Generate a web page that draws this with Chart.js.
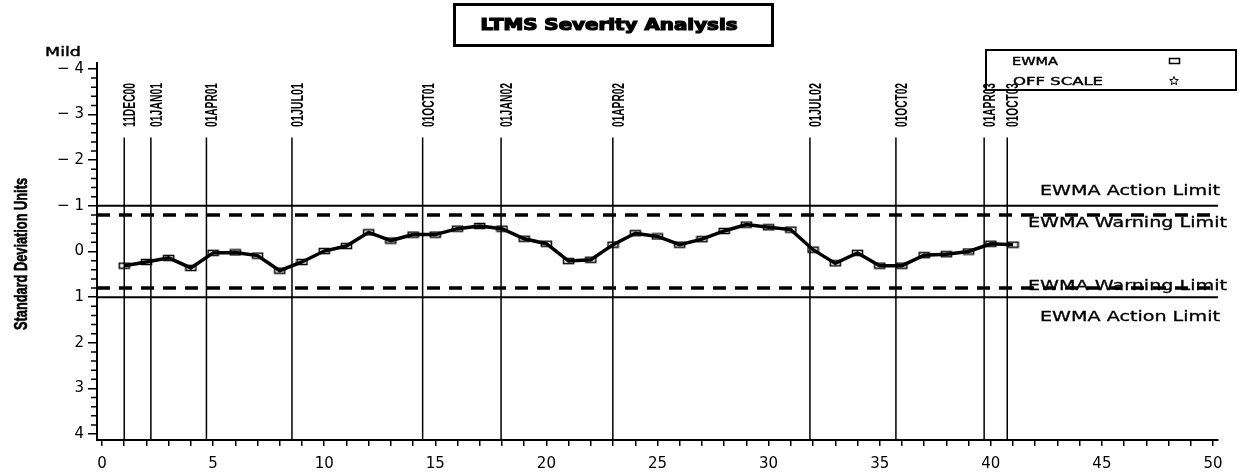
<!DOCTYPE html>
<html>
<head>
<meta charset="utf-8">
<title>LTMS Severity Analysis</title>
<script src="https://cdn.jsdelivr.net/npm/chart.js@4/dist/chart.umd.min.js"></script>
<style>
  body { margin: 0; background: #fff; }
  #wrap { width: 1239px; height: 475px; position: relative; }
</style>
</head>
<body>
<div id="wrap"><canvas id="chart"></canvas></div>
<script>
// run number on the x axis, EWMA in standard deviation units
const runs = [1, 2, 3, 4, 5, 6, 7, 8, 9, 10, 11, 12, 13, 14, 15, 16, 17, 18, 19, 20,
  21, 22, 23, 24, 25, 26, 27, 28, 29, 30, 31, 32, 33, 34, 35, 36, 37, 38, 39, 40, 41];
const ewma = [0.31, 0.23, 0.14, 0.36, 0.03, 0.02, 0.09, 0.42, 0.23, -0.01,
  -0.12, -0.42, -0.24, -0.37, -0.37, -0.50, -0.56, -0.50, -0.28, -0.17,
  0.21, 0.18, -0.15, -0.40, -0.33, -0.15, -0.27, -0.45, -0.59, -0.53,
  -0.48, -0.04, 0.26, 0.03, 0.31, 0.31, 0.08, 0.06, 0.00, -0.17, -0.15];

// calendar markers
const eventDates = ["11DEC00", "01JAN01", "01APR01", "01JUL01", "01OCT01", "01JAN02",
  "01APR02", "01JUL02", "01OCT02", "01APR03", "01OCT03"];
const eventRuns = [1.0, 2.2, 4.7, 8.55, 14.43, 17.96, 22.99, 31.86, 35.73, 39.7, 40.74];
const eventTop = -2.5;

// limits
const actionLimit = 1.0;
const warningLimit = 0.8;

const yTicks = [-4, -3, -2, -1, 0, 1, 2, 3, 4];
const xLabelStep = 5;
const xMin = -0.225, xMax = 50.225;
const yMin = -4.13, yMax = 4.13;

const FONT = "'DejaVu Sans', sans-serif";
Chart.defaults.font.family = FONT;
Chart.defaults.color = "#000";

function hline(y) {
  return [{ x: xMin, y: y }, { x: xMax, y: y }];
}

const eventLineData = [];
eventRuns.forEach((r) => {
  eventLineData.push({ x: r, y: eventTop }, { x: r, y: yMax }, { x: r, y: null });
});

// hollow box marker
const box = document.createElement("canvas");
box.width = 13;
box.height = 8;
const bctx = box.getContext("2d");
bctx.strokeStyle = "#000";
bctx.lineWidth = 1.5;
bctx.strokeRect(1.5, 1.5, 10, 5);

function fitText(ctx, text, x, y, width, align, stroke) {
  const w = ctx.measureText(text).width;
  ctx.save();
  ctx.translate(x, y);
  ctx.scale(width / w, 1);
  ctx.textAlign = align;
  ctx.fillText(text, 0, 0);
  if (stroke) {
    ctx.lineWidth = stroke;
    ctx.strokeText(text, 0, 0);
  }
  ctx.restore();
}

const decorations = {
  id: "decorations",
  afterDatasetsDraw(chart) {
    const ctx = chart.ctx;
    const xs = chart.scales.x;
    const ys = chart.scales.y;
    ctx.save();
    ctx.fillStyle = "#000";
    ctx.strokeStyle = "#000";

    // minor ticks on y
    ctx.lineWidth = 1.5;
    ctx.beginPath();
    for (let v = -4; v <= 4.001; v += 0.2) {
      if (Math.abs(v - Math.round(v)) < 0.01) continue;
      const py = ys.getPixelForValue(v);
      ctx.moveTo(xs.left - 1, py);
      ctx.lineTo(xs.left - 6, py);
    }
    ctx.stroke();

    // limit labels
    ctx.textBaseline = "middle";
    ctx.font = "14px " + FONT;
    fitText(ctx, "EWMA Action Limit", 1220, ys.getPixelForValue(-actionLimit) - 14, 180, "right", 0.3);
    fitText(ctx, "EWMA Warning Limit", 1227, ys.getPixelForValue(-warningLimit) + 8, 199, "right", 0.3);
    fitText(ctx, "EWMA Warning Limit", 1227, ys.getPixelForValue(warningLimit) - 2, 199, "right", 0.3);
    fitText(ctx, "EWMA Action Limit", 1220, ys.getPixelForValue(actionLimit) + 20, 180, "right", 0.3);

    // title box
    ctx.lineWidth = 3;
    ctx.strokeRect(454.5, 4.5, 318, 41);
    ctx.font = "bold 15px " + FONT;
    fitText(ctx, "LTMS Severity Analysis", 609, 26, 257, "center", 1.2);

    // legend (transparent, labels may run over it)
    ctx.lineWidth = 2;
    ctx.strokeRect(986, 50, 250, 40);
    ctx.font = "11px " + FONT;
    fitText(ctx, "EWMA", 1012, 62, 46, "left", 0.4);
    fitText(ctx, "OFF SCALE", 1013, 82, 90, "left", 0.4);
    ctx.drawImage(box, 1168, 57);
    ctx.lineWidth = 1;
    ctx.beginPath();
    for (let k = 0; k < 10; k++) {
      const r = k % 2 === 0 ? 4.5 : 2;
      const a = -Math.PI / 2 + (k * Math.PI) / 5;
      const sx = 1174 + r * Math.cos(a), sy = 81 + r * Math.sin(a);
      if (k === 0) ctx.moveTo(sx, sy); else ctx.lineTo(sx, sy);
    }
    ctx.closePath();
    ctx.stroke();

    // date labels over the event lines
    ctx.font = "bold 16px 'Liberation Sans', sans-serif";
    ctx.textBaseline = "alphabetic";
    eventDates.forEach((d, i) => {
      const px = xs.getPixelForValue(eventRuns[i]);
      ctx.save();
      ctx.translate(px + 11, 127);
      ctx.rotate(-Math.PI / 2);
      fitText(ctx, d, 0, 0, 44, "left");
      ctx.restore();
    });

    // Mild + axis title
    ctx.textBaseline = "middle";
    ctx.font = "13px " + FONT;
    fitText(ctx, "Mild", 45, 53, 36, "left", 0.4);
    ctx.font = "bold 18px 'Liberation Sans', sans-serif";
    ctx.save();
    ctx.translate(22, 254);
    ctx.rotate(-Math.PI / 2);
    fitText(ctx, "Standard Deviation Units", 0, 0, 152, "center", 0.6);
    ctx.restore();

    ctx.restore();
  },
};

new Chart(document.getElementById("chart"), {
  type: "line",
  data: {
    datasets: [
      {
        label: "Events",
        data: eventLineData,
        borderColor: "#000",
        borderWidth: 1.5,
        pointRadius: 0,
        spanGaps: false,
      },
      { label: "Action -", data: hline(-actionLimit), borderColor: "#000", borderWidth: 2, pointRadius: 0 },
      { label: "Action +", data: hline(actionLimit), borderColor: "#000", borderWidth: 2, pointRadius: 0 },
      { label: "Warning -", data: hline(-warningLimit), borderColor: "#000", borderWidth: 3.5, borderDash: [13, 9], pointRadius: 0 },
      { label: "Warning +", data: hline(warningLimit), borderColor: "#000", borderWidth: 3.5, borderDash: [13, 9], pointRadius: 0 },
      {
        label: "EWMA",
        data: runs.map((r, i) => ({ x: r, y: ewma[i] })),
        borderColor: "#000",
        borderWidth: 3.5,
        tension: 0,
        pointStyle: box,
      },
    ],
  },
  options: {
    responsive: true,
    maintainAspectRatio: false,
    animation: false,
    layout: { padding: { top: 63, right: 21, left: 0, bottom: 0 } },
    plugins: { legend: { display: false }, tooltip: { enabled: false } },
    scales: {
      x: {
        type: "linear",
        min: xMin,
        max: xMax,
        afterBuildTicks: (scale) => {
          const t = [];
          for (let v = 0; v <= 50; v++) t.push({ value: v });
          scale.ticks = t;
        },
        afterFit: (scale) => { scale.height = 35; },
        ticks: {
          autoSkip: false,
          maxRotation: 0,
          padding: 9,
          font: { size: 15 },
          callback: (v) => (v % xLabelStep === 0 ? String(v) : ""),
        },
        grid: { drawOnChartArea: false, tickLength: 6, color: "#000", lineWidth: 1.5 },
        border: { display: true, color: "#000", width: 2 },
      },
      y: {
        type: "linear",
        reverse: true,
        min: yMin,
        max: yMax,
        afterBuildTicks: (scale) => { scale.ticks = yTicks.map((v) => ({ value: v })); },
        afterFit: (scale) => { scale.width = 97; },
        ticks: {
          padding: 4,
          font: { size: 15 },
          callback: (v) => (v < 0 ? "\u2212 " + -v : String(v)),
        },
        grid: { drawOnChartArea: false, tickLength: 9, color: "#000", lineWidth: 1.5 },
        border: { display: true, color: "#000", width: 2 },
      },
    },
  },
  plugins: [decorations],
});
</script>
</body>
</html>
